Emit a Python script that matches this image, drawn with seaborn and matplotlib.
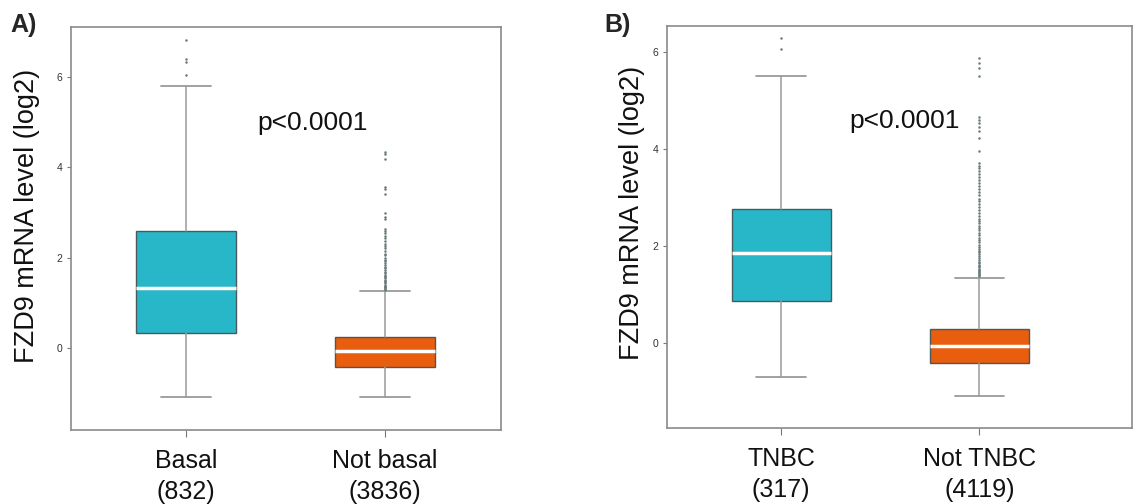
import matplotlib
matplotlib.use("Agg")
import matplotlib.pyplot as plt
import seaborn as sns
import pandas as pd

# ---------------- data ----------------
groups_a = ["Basal", "Not basal"]
counts_a = [832, 3836]
q1_a = [0.33, -0.42]
med_a = [1.33, -0.08]
q3_a = [2.59, 0.24]
wlo_a = [-1.09, -1.09]
whi_a = [5.80, 1.25]
out_basal = [6.05, 6.33, 6.40, 6.83]
out_notbasal = [4.34, 4.29, 4.18, 3.57, 3.52, 3.40, 2.98, 2.91, 2.85, 2.63,
                2.59, 2.54, 2.49, 2.44, 2.37, 2.31, 2.26, 2.21, 2.14, 2.09,
                2.05, 2.00, 1.95, 1.92, 1.87, 1.84, 1.79, 1.76, 1.72, 1.69,
                1.66, 1.62, 1.60, 1.57, 1.54, 1.51, 1.48, 1.45, 1.43, 1.40,
                1.38, 1.36, 1.34, 1.32, 1.30, 1.28]

groups_b = ["TNBC", "Not TNBC"]
counts_b = [317, 4119]
q1_b = [0.87, -0.40]
med_b = [1.86, -0.06]
q3_b = [2.76, 0.29]
wlo_b = [-0.70, -1.09]
whi_b = [5.51, 1.34]
out_tnbc = [6.06, 6.29]
out_nottnbc = [5.88, 5.77, 5.67, 5.51, 4.67, 4.61, 4.53, 4.46, 4.37, 4.23,
               3.97, 3.71, 3.66, 3.61, 3.55, 3.48, 3.43, 3.37, 3.31, 3.24,
               3.18, 3.12, 3.06, 2.98, 2.93, 2.86, 2.80, 2.74, 2.69, 2.62,
               2.57, 2.52, 2.47, 2.42, 2.37, 2.33, 2.27, 2.22, 2.17, 2.13,
               2.08, 2.03, 1.99, 1.95, 1.91, 1.87, 1.83, 1.79, 1.75, 1.72,
               1.68, 1.65, 1.62, 1.59, 1.56, 1.53, 1.51, 1.48, 1.46, 1.44,
               1.42, 1.40, 1.38]

yticks = [0, 2, 4, 6]
ylabel = "FZD9 mRNA level (log2)"
pval_text = "p<0.0001"
box_colors = ["#27B7C8", "#E85D0E"]

# ---------------- style ----------------
sns.set_style("white")
plt.rcParams["font.family"] = ["Liberation Sans", "DejaVu Sans"]

fig = plt.figure(figsize=(11.34, 5.04), dpi=100)
ax_a = fig.add_axes([0.0626, 0.1468, 0.3792, 0.7996])
ax_b = fig.add_axes([0.5882, 0.1508, 0.4100, 0.7976])


def draw_panel(ax, groups, counts, q1, med, q3, wlo, whi, outs, ylim, xlim,
               ptxt_xy, label_xy):
    # outliers via seaborn stripplot
    df = pd.DataFrame({
        "group": [g for g, o in zip(groups, outs) for _ in o],
        "value": [v for o in outs for v in o],
    })
    sns.stripplot(data=df, x="group", y="value", order=groups, jitter=False,
                  color="#6a7a7b", size=1.8, linewidth=0, ax=ax, zorder=3)
    stats = []
    for i, g in enumerate(groups):
        stats.append(dict(q1=q1[i], med=med[i], q3=q3[i],
                          whislo=wlo[i], whishi=whi[i], fliers=[], label=g))
    bp = ax.bxp(stats, positions=[0, 1], widths=0.5, capwidths=0.25,
                patch_artist=True, showfliers=False,
                boxprops=dict(edgecolor="#4a5a5c", linewidth=1.0),
                whiskerprops=dict(color="#9a9a9a", linewidth=1.1),
                capprops=dict(color="#9a9a9a", linewidth=1.3),
                medianprops=dict(color="white", linewidth=2.5),
                zorder=2)
    for patch, c in zip(bp["boxes"], box_colors):
        patch.set_facecolor(c)
    ax.set_xlim(*xlim)
    ax.set_ylim(*ylim)
    ax.set_xticks([0, 1])
    ax.set_xticklabels([f"{g}\n({n})" for g, n in zip(groups, counts)],
                       fontsize=18, color="#111111", linespacing=1.35)
    ax.set_yticks(yticks)
    ax.set_yticklabels([str(t) for t in yticks], fontsize=7.5,
                       color="#333333")
    ax.tick_params(axis="y", length=3, width=0.8, color="#777777", pad=3,
                   left=True)
    ax.tick_params(axis="x", length=5, width=0.8, color="#777777", pad=9,
                   bottom=True)
    ax.set_xlabel("")
    ax.set_ylabel(ylabel, fontsize=19.5, color="#111111")
    ax.yaxis.set_label_coords(*label_xy)
    for s in ax.spines.values():
        s.set_visible(True)
        s.set_color("#8a8a8a")
        s.set_linewidth(1.2)
    ax.text(ptxt_xy[0], ptxt_xy[1], pval_text, fontsize=19, ha="left",
            va="baseline", color="#111111")


draw_panel(ax_a, groups_a, counts_a, q1_a, med_a, q3_a, wlo_a, whi_a,
           [out_basal, out_notbasal], (-1.82, 7.11), (-0.578, 1.583),
           (0.357, 4.83), (-0.073, 0.531))
draw_panel(ax_b, groups_b, counts_b, q1_b, med_b, q3_b, wlo_b, whi_b,
           [out_tnbc, out_nottnbc], (-1.75, 6.54), (-0.576, 1.77),
           (0.343, 4.43), (-0.048, 0.535))

fig.text(0.009, 0.975, "A)", fontsize=18, fontweight="bold", va="top",
         ha="left")
fig.text(0.533, 0.975, "B)", fontsize=18, fontweight="bold", va="top",
         ha="left")

fig.savefig("out.png", dpi=100, facecolor="white")
